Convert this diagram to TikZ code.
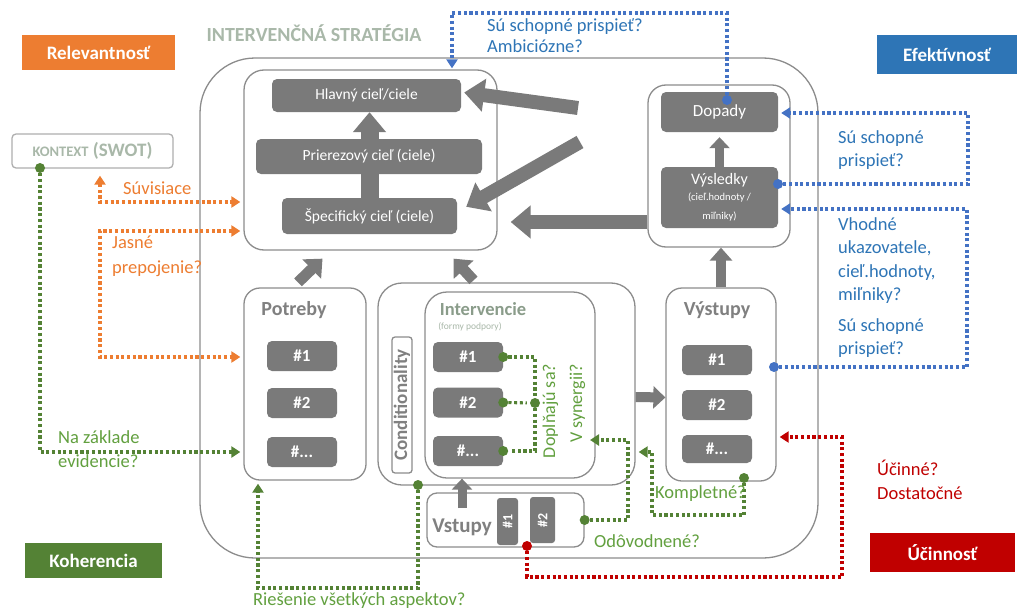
\documentclass[tikz,border=0pt]{standalone}
\usepackage{fontspec}
\setmainfont{Carlito}
\usetikzlibrary{arrows.meta}

\definecolor{boxgrey}{HTML}{7A7A7A}
\definecolor{framegrey}{HTML}{8C8C8C}
\definecolor{titlegrey}{HTML}{808080}
\definecolor{stratgrey}{HTML}{A9B8A9}
\definecolor{intvgrey}{HTML}{8A9C8A}
\definecolor{relorange}{HTML}{ED7D31}
\definecolor{efblue}{HTML}{2E75B6}
\definecolor{lineblue}{HTML}{4472C4}
\definecolor{kohgreen}{HTML}{548235}
\definecolor{txtgreen}{HTML}{62A03F}
\definecolor{ucred}{HTML}{C00000}

\newcommand{\fsz}[2]{\fontsize{#1}{#2}\selectfont}

\tikzstyle{panel} = [rectangle, draw=framegrey, line width=1.3pt,
	rounded corners=16pt, inner sep=0pt]
\tikzstyle{darkbox} = [rectangle, fill=boxgrey, rounded corners=5pt,
	text=white, inner sep=0pt, align=center, font=\fsz{15.5}{18}]
\tikzstyle{numbox} = [darkbox, minimum width=70pt, minimum height=30pt,
	font=\bfseries\fsz{17}{20}]
\tikzstyle{crit} = [rectangle, text=white, inner sep=0pt, font=\bfseries\fsz{19}{22}]
\tikzstyle{paneltitle} = [text=titlegrey, font=\bfseries\fsz{20}{24}]
\tikzstyle{bigarrow} = [draw=boxgrey, line width=14pt,
	-{Triangle[width=32pt,length=20pt]}]
\tikzstyle{dotline} = [line width=3.1pt, dash pattern=on 3.1pt off 2.6pt,
	-{Triangle[width=11pt,length=9pt]}, shorten >=3pt]
\tikzstyle{bothtips} = [{Triangle[width=11pt,length=9pt]}-{Triangle[width=11pt,length=9pt]},
	shorten <=3pt]
\tikzstyle{gdot} = [circle, fill=kohgreen, inner sep=0pt, minimum size=10pt]
\tikzstyle{bdot} = [gdot, fill=lineblue]
\tikzstyle{rdot} = [gdot, fill=ucred]
\tikzstyle{qtext} = [inner sep=0pt, anchor=west, align=left, font=\fsz{18.5}{23.5}]

\begin{document}
\begin{tikzpicture}[x=1pt, y=-1pt]
	\useasboundingbox (0,0) rectangle (1017,610);
	\fill[white] (0,0) rectangle (1017,610);
	
	% criteria
	\node [crit, fill=relorange, minimum width=153pt, minimum height=35pt] (rel) at (98.5,52.5) {Relevantnosť};
	\node [crit, fill=efblue, minimum width=140pt, minimum height=39pt] (efe) at (947,54.5) {Efektívnosť};
	\node [crit, fill=kohgreen, minimum width=137pt, minimum height=35pt] (koh) at (93.5,560.5) {Koherencia};
	\node [crit, fill=ucred, minimum width=145pt, minimum height=39pt] (uci) at (942.5,552.5) {Účinnosť};
	\node [rectangle, draw=framegrey!70, line width=1.3pt, rounded corners=4pt,
		minimum width=161pt, minimum height=34pt, text=stratgrey,
		font=\bfseries\fsz{19}{22}] (ctx) at (92.5,151) {{\fsz{14.5}{16}KONTEXT} (SWOT)};
	
	% strategy frame
	\node [panel, rounded corners=55pt, minimum width=618pt, minimum height=500pt] (strat) at (509,308) {};
	\node [text=stratgrey, font=\bfseries\fsz{20}{24}] (title) at (314,33) {INTERVENČNÁ STRATÉGIA};
	
	% goals
	\node [panel, rounded corners=20pt, minimum width=253pt, minimum height=180pt] (goals) at (370.5,160) {};
	\node [darkbox, minimum width=189pt, minimum height=33pt] (hlavny) at (366.5,95.5) {Hlavný cieľ/ciele};
	\node [darkbox, minimum width=175pt, minimum height=36pt] (spec) at (369.5,216) {Špecifický cieľ (ciele)};
	\draw [bigarrow, line width=18pt] (spec.north) -- (spec.north |- hlavny.south);
	\node [darkbox, minimum width=226pt, minimum height=35pt] (prier) at (369,156.5) {Prierezový cieľ (ciele)};
	
	% effects
	\node [panel, rounded corners=18pt, minimum width=142pt, minimum height=162pt] (effects) at (719,166) {};
	\node [darkbox, minimum width=117pt, minimum height=40pt, font=\fsz{17}{20}] (dopady) at (719.5,112) {Dopady};
	\node [darkbox, minimum width=117pt, minimum height=61pt, font=\fsz{16}{19}] (vysl) at (719.5,197.5)
		{Výsledky\\[-3pt]\fsz{10.5}{13}(cieľ.hodnoty /\\\fsz{10.5}{13}miľniky)};
	\draw [bigarrow, line width=9pt, -{Triangle[width=20pt,length=11pt]}] (vysl.north) -- ([yshift=-5pt]dopady.south);
	
	% needs
	\node [panel, minimum width=122pt, minimum height=192pt] (needs) at (305,384) {};
	\node [paneltitle] (needs-t) at (294,310) {Potreby};
	\node [numbox] (n1) at (302,356) {\#1};
	\node [numbox] (n2) at (302,403) {\#2};
	\node [numbox] (n3) at (302,452) {\#...};
	
	% interventions
	\node [panel, rounded corners=24pt, minimum width=257pt, minimum height=202pt] (intvout) at (506.5,384) {};
	\node [panel, rounded corners=3pt, minimum width=20pt, minimum height=136pt] (cond) at (402,405) {};
	\node [rotate=90, inner sep=0pt, text=titlegrey, font=\bfseries\fsz{19}{22}] (cond-t) at (cond.center) {Conditionality};
	\node [panel, rounded corners=22pt, minimum width=170pt, minimum height=186pt] (intvin) at (510,385) {};
	\node [paneltitle, text=intvgrey, font=\bfseries\fsz{18.5}{22}] (intv-t) at (483,309) {Intervencie};
	\node [text=stratgrey, font=\fsz{9.5}{11}] (intv-s) at (470,327) {(formy podpory)};
	\node [numbox] (i1) at (468,357) {\#1};
	\node [numbox] (i2) at (468,402.5) {\#2};
	\node [numbox] (i3) at (468,451) {\#...};
	
	% inputs
	\node [panel, rounded corners=10pt, minimum width=157pt, minimum height=54pt] (inputs) at (505.5,520) {};
	\node [paneltitle, font=\bfseries\fsz{21}{24}] (inputs-t) at (462,527) {Vstupy};
	\node [darkbox, rotate=90, rounded corners=3pt, minimum width=47pt, minimum height=21pt,
		font=\bfseries\fsz{14}{16}] (in1) at (507.5,521.5) {\#1};
	\node [darkbox, rotate=90, rounded corners=3pt, minimum width=46pt, minimum height=25pt,
		font=\bfseries\fsz{14}{16}] (in2) at (542.5,520) {\#2};
	
	% outputs
	\node [panel, minimum width=110pt, minimum height=193pt] (outputs) at (721,384.5) {};
	\node [paneltitle] (outputs-t) at (717,310) {Výstupy};
	\node [numbox] (o1) at (717,360) {\#1};
	\node [numbox] (o2) at (717,405) {\#2};
	\node [numbox, minimum height=28pt] (o3) at (717,449) {\#...};
	
	% grey arrows
	\coordinate (fb1) at (578,108);
	\coordinate (fb2) at (580,142);
	\coordinate (vin) at (462,508);
	\draw [bigarrow] (fb1) -- ([xshift=3pt,yshift=3pt]hlavny.east);
	\draw [bigarrow] (fb2) -- ([xshift=9pt,yshift=-9pt]spec.north east);
	\draw [bigarrow] ([yshift=-56pt]effects.west) -- ([xshift=13pt,yshift=-62pt]goals.east);
	\draw [bigarrow, line width=10pt, -{Triangle[width=22pt,length=13pt]}] (outputs.north) -- (outputs.north |- effects.south);
	\draw [bigarrow, line width=11pt, -{Triangle[width=26pt,length=15pt]}]
		([xshift=-7pt,yshift=5pt]needs.north) -- ([xshift=-48pt,yshift=-8pt]goals.south);
	\draw [bigarrow, line width=11pt, -{Triangle[width=26pt,length=15pt]}]
		([xshift=-33pt,yshift=2pt]intvout.north) -- ([xshift=83pt,yshift=-8pt]goals.south);
	\draw [bigarrow, line width=10pt, -{Triangle[width=22pt,length=12pt]}]
		([yshift=-13pt]intvout.east) -- ([yshift=-13pt]outputs.west);
	\draw [bigarrow, line width=9pt, -{Triangle[width=20pt,length=11pt]}] (vin) -- (vin |- intvin.south);
	
	% effectiveness
	\node [bdot] (bd1) at (727,100) {};
	\node [bdot] (bd2) at (778,184) {};
	\node [bdot] (bd3) at (774,367) {};
	\coordinate (bt) at (452,13);
	\coordinate (br1) at (968,113);
	\coordinate (br2) at (967,209);
	\draw [dotline, lineblue, shorten >=1pt] (bd1) |- (bt) -- (bt |- goals.north);
	\draw [dotline, lineblue] (bd2) -| (br1) -- (br1 -| dopady.east);
	\draw [dotline, lineblue] (bd3) -| (br2) -- (br2 -| vysl.east);
	\node [qtext, text=efblue, font=\fsz{18.5}{21}] (q1) at (487,35.5) {Sú schopné prispieť?\\Ambiciózne?};
	\node [qtext, text=efblue] (q2) at (838,150) {Sú schopné\\prispieť?};
	\node [qtext, text=efblue] (q3) at (838,260.5) {Vhodné\\ukazovatele,\\cieľ.hodnoty,\\miľniky?};
	\node [qtext, text=efblue] (q4) at (838,338) {Sú schopné\\prispieť?};
	
	% relevance
	\coordinate (o1) at (100,202);
	\coordinate (o2) at (100,231);
	\coordinate (o3) at (100,357);
	\draw [dotline, relorange, bothtips, shorten <=7pt] (ctx.south -| o1) -- (o1) -- (o1 -| goals.west);
	\draw [dotline, relorange, bothtips] (o2 -| goals.west) -- (o2) -- (o3) -- (o3 -| needs.west);
	\node [qtext, text=relorange] (q5) at (123,188) {Súvisiace};
	\node [qtext, text=relorange, font=\fsz{18.5}{25}] (q6) at (112,256) {Jasné\\prepojenie?};
	
	% coherence
	\node [gdot] (gd1) at (40,168) {};
	\node [gdot] (gd2) at (418,485) {};
	\node [gdot] (gd3) at (inputs.east) {};
	\node [gdot] (gd4) at (744,478) {};
	\node [gdot] (gs1) at (i1.east) {};
	\node [gdot] (gs2) at (i2.east) {};
	\node [gdot] (gs3) at (i3.east) {};
	\node [gdot] (gsj) at (535,403) {};
	\coordinate (g2) at (258,588);
	\coordinate (g3) at (628,440);
	\coordinate (g3t) at (587,440);
	\coordinate (g4) at (652,515);
	\coordinate (g4t) at (652,452);
	\draw [dotline, kohgreen] (gd1) |- (needs.west |- n3);
	\draw [dotline, kohgreen] (gd2) |- (g2) -- (g2 |- needs.south);
	\draw [dotline, kohgreen, -] (gs1) -| (gsj) |- (gs3);
	\draw [dotline, kohgreen, -] (gs2) -- (gsj);
	\draw [dotline, kohgreen] (gd3) -| (g3) -- (g3t);
	\draw [dotline, kohgreen] (gd4) |- (g4) -- (g4t) -- (g4t -| intvout.east);
	\node [qtext, text=txtgreen] (q7) at (58,449) {Na základe\\evidencie?};
	\node [qtext, text=txtgreen] (q8) at (253,601) {Riešenie všetkých aspektov?};
	\node [rotate=90, inner sep=0pt, text=txtgreen, align=right, font=\fsz{18}{27}] (q9) at (564,411) {Doplňajú sa?\\V synergii?};
	\node [qtext, text=txtgreen] (q10) at (655,494) {Kompletné?};
	\node [qtext, text=txtgreen] (q11) at (594,541) {Odôvodnené?};
	
	% efficiency
	\node [rdot] (rd) at (527,546) {};
	\coordinate (r1) at (842,577);
	\coordinate (r2) at (842,437);
	\draw [dotline, ucred] (rd) |- (r1) -- (r2) -- (r2 -| outputs.east);
	\node [qtext, text=ucred] (q12) at (877,480) {Účinné?\\Dostatočné};
\end{tikzpicture}
\end{document}
